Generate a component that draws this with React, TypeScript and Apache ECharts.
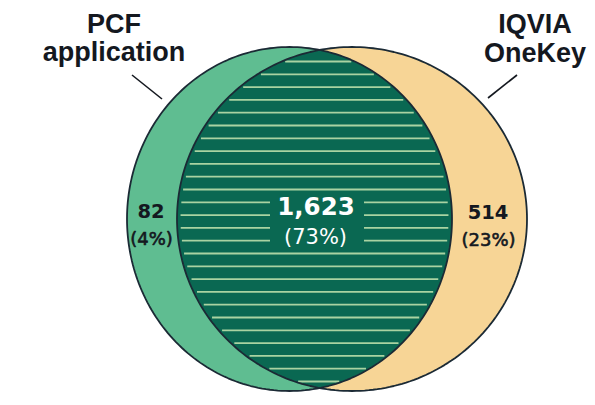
import React, { useEffect, useRef } from "react";
import * as echarts from "echarts";

// ---- data ----
const setNames = ["PCF\napplication", "IQVIA\nOneKey"];
const uniqueCounts = [82, 514];
const uniqueShares = [4, 23];
const overlapCounts = [1623];
const overlapShares = [73];

// ---- layout (data space equals a 595 x 405 canvas) ----
const W = 595;
const H = 405;
const CY = 219;
const RY = 172;
const CX = [289.5, 352];
const RX = [162.5, 175];
const FILLS = ["#5fbd91", "#f7d596"];
const LENS_FILL = "#0a6852";
const STRIPE = "#a9d3a2";
const OUTLINE = "#1b2a35";
const INK = "#14181f";
const TITLE_POS = [
  { x: 114, y: [24, 52] },
  { x: 535, y: [24, 53] },
];
const LEADERS = [
  [132, 75, 162, 99],
  [517, 75, 488, 98],
];
const COUNT_POS = [
  { x: 151, y: 211.5, py: 238.5 },
  { x: 488, y: 212, py: 239.5 },
];

const SANS = "'DejaVu Sans', sans-serif";
const ARIAL = "'Liberation Sans', Arial, sans-serif";

function ellipsePts(api: any, cx: number, cy: number, rx: number, ry: number, n = 260) {
  const pts: number[][] = [];
  for (let i = 0; i < n; i++) {
    const t = (i / n) * Math.PI * 2;
    pts.push(api.coord([cx + rx * Math.cos(t), cy + ry * Math.sin(t)]));
  }
  return pts;
}

function lensBounds(dy: number) {
  const k = Math.sqrt(Math.max(0, 1 - (dy / RY) * (dy / RY)));
  return [CX[1] - RX[1] * k, CX[0] + RX[0] * k];
}

export default function App() {
  const ref = useRef<HTMLDivElement>(null);
  useEffect(() => {
    document.body.style.margin = "0";
    if (!ref.current) return;
    const chart = echarts.init(ref.current, null, { renderer: "svg" });
    const k0 = (CX[1] - CX[0]) / (RX[0] + RX[1]);
    const halfH = RY * Math.sqrt(1 - k0 * k0);

    const option: any = {
      animation: false,
      backgroundColor: "#ffffff",
      grid: { left: 0, right: 0, top: 0, bottom: 0 },
      xAxis: { type: "value", min: 0, max: W, show: false },
      yAxis: { type: "value", min: 0, max: H, inverse: true, show: false },
      series: [
        {
          type: "custom",
          name: "sets",
          coordinateSystem: "cartesian2d",
          data: uniqueCounts.map((v, i) => [i, v]),
          renderItem: (params: any, api: any) => {
            const i = api.value(0);
            return {
              type: "polygon",
              shape: { points: ellipsePts(api, CX[i], CY, RX[i], RY) },
              style: { fill: FILLS[i], stroke: "none" },
            };
          },
        },
        {
          type: "custom",
          name: "overlap",
          coordinateSystem: "cartesian2d",
          data: overlapCounts.map((v, i) => [v, overlapShares[i]]),
          renderItem: (params: any, api: any) => {
            const pts: number[][] = [];
            const n = 160;
            for (let j = 0; j <= n; j++) {
              const dy = -halfH + (2 * halfH * j) / n;
              pts.push(api.coord([lensBounds(dy)[1], CY + dy]));
            }
            for (let j = n; j >= 0; j--) {
              const dy = -halfH + (2 * halfH * j) / n;
              pts.push(api.coord([lensBounds(dy)[0], CY + dy]));
            }
            const children: any[] = [
              { type: "polygon", shape: { points: pts }, style: { fill: LENS_FILL, stroke: "none" } },
            ];
            for (let y = 61.5; y < CY + halfH - 6; y += 12.8) {
              const [l, r] = lensBounds(y - CY);
              const a = api.coord([l + 3.5, y]);
              const b = api.coord([r - 3.5, y]);
              if (b[0] - a[0] > 4) {
                children.push({
                  type: "line",
                  shape: { x1: a[0], y1: a[1], x2: b[0], y2: b[1] },
                  style: { stroke: STRIPE, lineWidth: 1.8 },
                });
              }
            }
            const p0 = api.coord([270, 195]);
            const p1 = api.coord([364, 251]);
            children.push({
              type: "rect",
              shape: { x: p0[0], y: p0[1], width: p1[0] - p0[0], height: p1[1] - p0[1] },
              style: { fill: LENS_FILL },
            });
            const c1 = api.coord([316, 206.5]);
            const c2 = api.coord([315.5, 236.5]);
            children.push({
              type: "text",
              style: {
                text: Number(api.value(0)).toLocaleString("en-US"),
                x: c1[0], y: c1[1], align: "center", verticalAlign: "middle",
                fill: "#ffffff", fontFamily: SANS, fontWeight: "bold", fontSize: 24.5,
              },
            });
            children.push({
              type: "text",
              style: {
                text: "(" + api.value(1) + "%)",
                x: c2[0], y: c2[1], align: "center", verticalAlign: "middle",
                fill: "#ffffff", fontFamily: SANS, fontWeight: "normal", fontSize: 21,
              },
            });
            return { type: "group", children };
          },
        },
        {
          type: "custom",
          name: "outlines",
          coordinateSystem: "cartesian2d",
          data: uniqueCounts.map((v, i) => [i, v]),
          renderItem: (params: any, api: any) => {
            const i = api.value(0);
            return {
              type: "polygon",
              shape: { points: ellipsePts(api, CX[i], CY, RX[i], RY) },
              style: { fill: "none", stroke: OUTLINE, lineWidth: 1.8, lineJoin: "round" },
            };
          },
        },
        {
          type: "custom",
          name: "labels",
          coordinateSystem: "cartesian2d",
          data: uniqueCounts.map((v, i) => [i, v, uniqueShares[i]]),
          renderItem: (params: any, api: any) => {
            const i = api.value(0);
            const children: any[] = [];
            const lines = setNames[i].split("\n");
            lines.forEach((ln, j) => {
              const p = api.coord([TITLE_POS[i].x, TITLE_POS[i].y[j]]);
              children.push({
                type: "text",
                style: {
                  text: ln, x: p[0], y: p[1], align: "center", verticalAlign: "middle",
                  fill: INK, fontFamily: ARIAL, fontWeight: "bold", fontSize: 27,
                },
              });
            });
            const L = LEADERS[i];
            const a = api.coord([L[0], L[1]]);
            const b = api.coord([L[2], L[3]]);
            children.push({
              type: "line",
              shape: { x1: a[0], y1: a[1], x2: b[0], y2: b[1] },
              style: { stroke: INK, lineWidth: 1.6 },
            });
            const cp = api.coord([COUNT_POS[i].x, COUNT_POS[i].y]);
            const pp = api.coord([COUNT_POS[i].x + 0.5, COUNT_POS[i].py]);
            children.push({
              type: "text",
              style: {
                text: String(api.value(1)), x: cp[0], y: cp[1], align: "center", verticalAlign: "middle",
                fill: INK, fontFamily: SANS, fontWeight: "bold", fontSize: 19.5,
              },
            });
            children.push({
              type: "text",
              style: {
                text: "(" + api.value(2) + "%)", x: pp[0], y: pp[1], align: "center", verticalAlign: "middle",
                fill: INK, fontFamily: SANS, fontWeight: "normal", fontSize: 18,
                stroke: INK, lineWidth: 0.6,
              },
            });
            return { type: "group", children };
          },
        },
      ],
    };
    chart.setOption(option);
    return () => chart.dispose();
  }, []);
  return <div ref={ref} style={{ width: W, height: H }} />;
}
